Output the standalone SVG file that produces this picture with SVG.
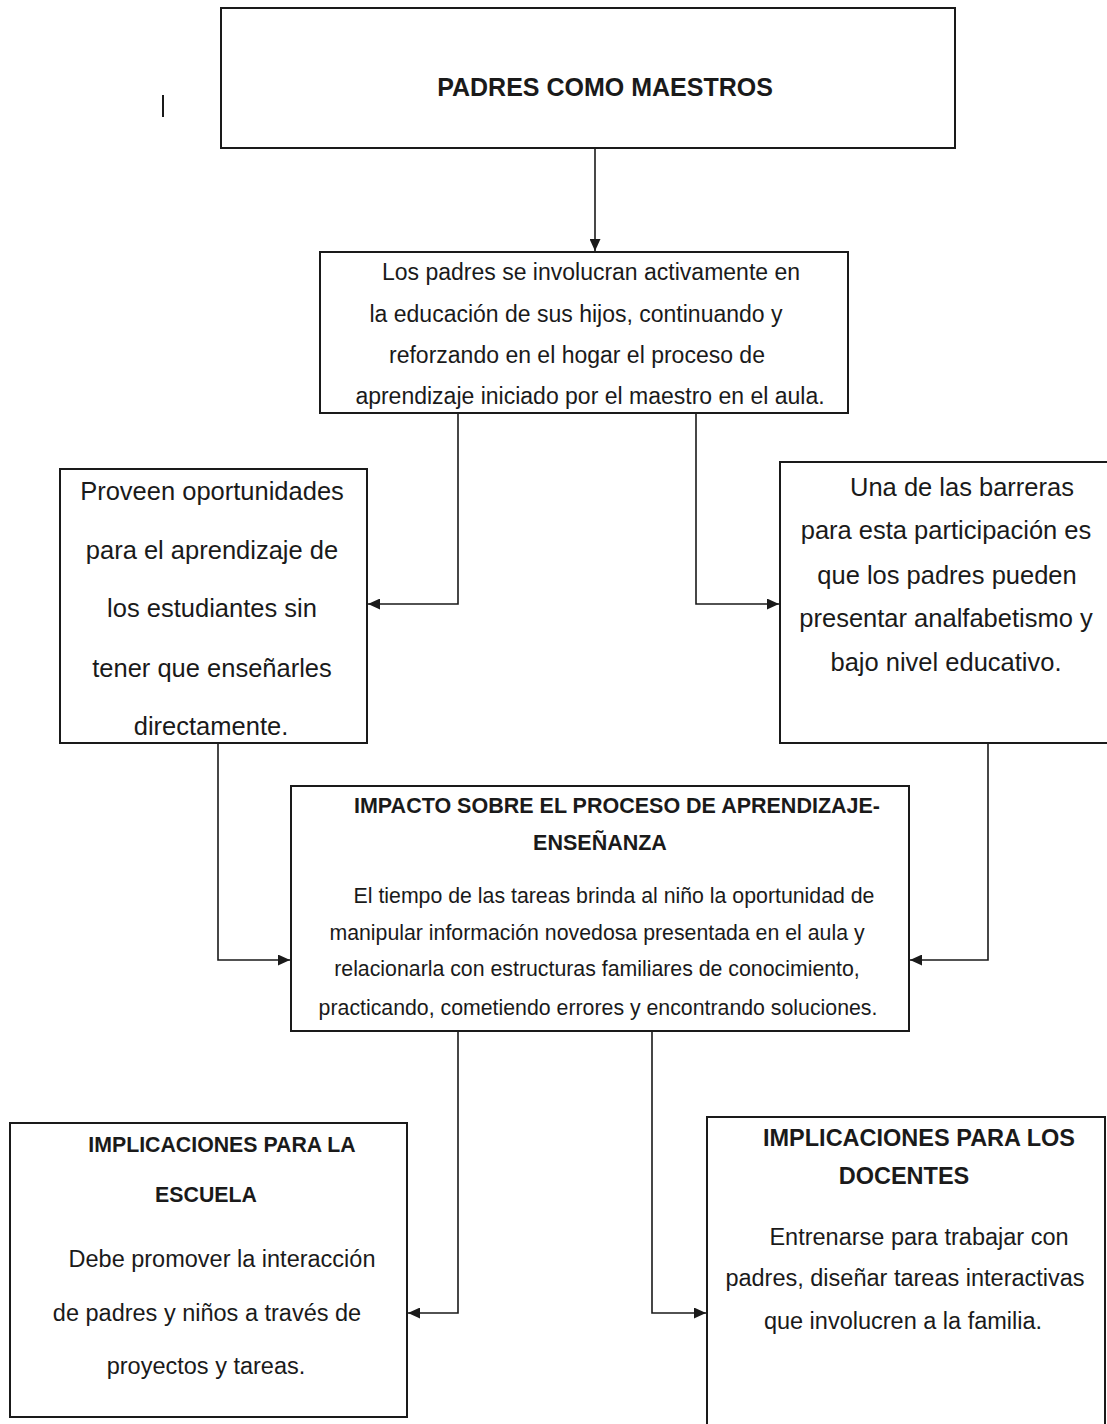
<svg xmlns="http://www.w3.org/2000/svg" width="1107" height="1424" viewBox="0 0 1107 1424">
<defs>
<style>
.box{fill:#fff;stroke:#1a1a1a;stroke-width:2}
.t{font-family:"Liberation Sans",Arial,sans-serif;fill:#1a1a1a;text-anchor:middle}
.b{font-weight:bold}
.con{fill:none;stroke:#1a1a1a;stroke-width:1.6}
</style>
<marker id="arr" markerUnits="userSpaceOnUse" markerWidth="13" markerHeight="11" refX="12" refY="5.5" orient="auto">
<path d="M0,0 L12,5.5 L0,11 Z" fill="#1a1a1a"/>
</marker>
</defs>
<rect width="1107" height="1424" fill="#fff"/>
<line x1="163" y1="95" x2="163" y2="117" stroke="#1a1a1a" stroke-width="2"/>
<g id="connectors">
<path class="con" d="M595,148 V251" marker-end="url(#arr)"/>
<path class="con" d="M458,413 V604 H368" marker-end="url(#arr)"/>
<path class="con" d="M696,413 V604 H779" marker-end="url(#arr)"/>
<path class="con" d="M218,743 V960 H290" marker-end="url(#arr)"/>
<path class="con" d="M988,743 V960 H910" marker-end="url(#arr)"/>
<path class="con" d="M458,1031 V1313 H408" marker-end="url(#arr)"/>
<path class="con" d="M652,1031 V1313 H706" marker-end="url(#arr)"/>
</g>
<g id="n1">
<rect class="box" x="221" y="8" width="734" height="140"/>
<text class="t b" x="605" y="96" font-size="25">PADRES COMO MAESTROS</text>
</g>
<g id="n2">
<rect class="box" x="320" y="252" width="528" height="161"/>
<g class="t" font-size="23">
<text x="591" y="280">Los padres se involucran activamente en</text>
<text x="576" y="322">la educación de sus hijos, continuando y</text>
<text x="577" y="363">reforzando en el hogar el proceso de</text>
<text x="590" y="404">aprendizaje iniciado por el maestro en el aula.</text>
</g>
</g>
<g id="n3">
<rect class="box" x="60" y="469" width="307" height="274"/>
<g class="t" font-size="25.5">
<text x="212" y="500">Proveen oportunidades</text>
<text x="212" y="559">para el aprendizaje de</text>
<text x="212" y="617">los estudiantes sin</text>
<text x="212" y="677">tener que enseñarles</text>
<text x="211" y="735">directamente.</text>
</g>
</g>
<g id="n4">
<rect class="box" x="780" y="462" width="340" height="281"/>
<g class="t" font-size="25.5">
<text x="962" y="496">Una de las barreras</text>
<text x="946" y="539">para esta participación es</text>
<text x="947" y="584">que los padres pueden</text>
<text x="946" y="627">presentar analfabetismo y</text>
<text x="946" y="671">bajo nivel educativo.</text>
</g>
</g>
<g id="n5">
<rect class="box" x="291" y="786" width="618" height="245"/>
<g class="t b" font-size="21.5">
<text x="617" y="813">IMPACTO SOBRE EL PROCESO DE APRENDIZAJE-</text>
<text x="600" y="850">ENSEÑANZA</text>
</g>
<g class="t" font-size="21.3">
<text x="614" y="903">El tiempo de las tareas brinda al niño la oportunidad de</text>
<text x="597" y="940">manipular información novedosa presentada en el aula y</text>
<text x="597" y="976">relacionarla con estructuras familiares de conocimiento,</text>
<text x="598" y="1015">practicando, cometiendo errores y encontrando soluciones.</text>
</g>
</g>
<g id="n6">
<rect class="box" x="10" y="1123" width="397" height="294"/>
<g class="t b" font-size="21.3">
<text x="222" y="1152">IMPLICACIONES PARA LA</text>
<text x="206" y="1202">ESCUELA</text>
</g>
<g class="t" font-size="23.5">
<text x="222" y="1267">Debe promover la interacción</text>
<text x="207" y="1321">de padres y niños a través de</text>
<text x="206" y="1374">proyectos y tareas.</text>
</g>
</g>
<g id="n7">
<rect class="box" x="707" y="1117" width="398" height="330"/>
<g class="t b" font-size="23.5">
<text x="919" y="1146">IMPLICACIONES PARA LOS</text>
<text x="904" y="1184">DOCENTES</text>
</g>
<g class="t" font-size="23.5">
<text x="919" y="1245">Entrenarse para trabajar con</text>
<text x="905" y="1286">padres, diseñar tareas interactivas</text>
<text x="903" y="1329">que involucren a la familia.</text>
</g>
</g>
</svg>
